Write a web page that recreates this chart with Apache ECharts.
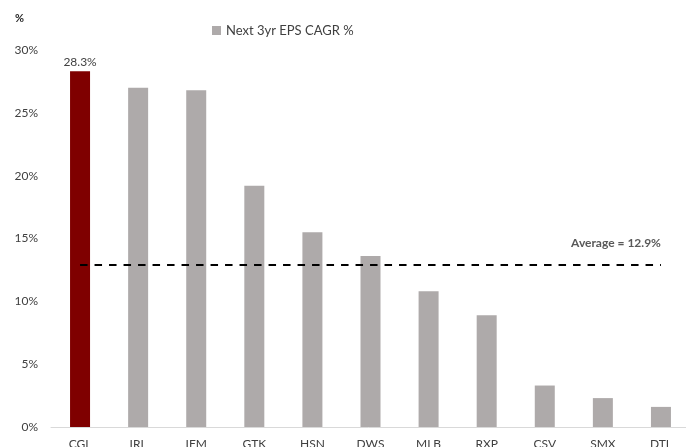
<!DOCTYPE html>
<html>
<head>
<meta charset="utf-8">
<script src="https://cdn.jsdelivr.net/npm/echarts@6/dist/echarts.min.js"></script>
<style>
  html, body { margin: 0; padding: 0; background: #fff; overflow: hidden; }
  #chart { width: 686px; height: 447px; }
</style>
</head>
<body>
<div id="chart"></div>
<script>
// Companies, ranked by forecast EPS growth
const tickers = ['CGL', 'IRL', 'IFM', 'GTK', 'HSN', 'DWS', 'MLB', 'RXP', 'CSV', 'SMX', 'DTL'];
// Next 3yr EPS CAGR, %
const epsCagr = [28.3, 27.0, 26.8, 19.2, 15.5, 13.6, 10.8, 8.9, 3.3, 2.3, 1.6];
// Peer group average, %
const averageCagr = 12.9;
const seriesName = 'Next 3yr EPS CAGR %';
const yTicks = [0, 5, 10, 15, 20, 25, 30];

const FONT = 'Lato, "Open Sans", sans-serif';
const GREY = '#AEAAAA';
const HIGHLIGHT = '#7F0000';

const barData = epsCagr.map((v, i) => i === 0
  ? { value: v, itemStyle: { color: HIGHLIGHT }, label: { show: true } }
  : v);

const chart = echarts.init(document.getElementById('chart'), null, { renderer: 'canvas' });
chart.setOption({
  animation: false,
  textStyle: { fontFamily: FONT },
  title: {
    text: '%',
    left: 10,
    top: 8,
    textStyle: { fontFamily: FONT, fontSize: 11, fontWeight: 'bold', color: '#262626' }
  },
  legend: {
    data: [{ name: seriesName, icon: 'rect' }],
    left: 207,
    top: 19,
    itemWidth: 9,
    itemHeight: 9,
    textStyle: { fontFamily: FONT, fontSize: 13, color: '#404040' }
  },
  grid: {
    left: 51, top: 50, width: 639, height: 377,
    containLabel: false,
    outerBoundsMode: 'none'
  },
  xAxis: {
    type: 'category',
    data: tickers,
    axisTick: { show: false },
    axisLine: { lineStyle: { color: '#D9D9D9', width: 1 } },
    axisLabel: { margin: 11, fontFamily: FONT, fontSize: 12, color: '#404040' }
  },
  yAxis: {
    type: 'value',
    min: yTicks[0],
    max: yTicks[yTicks.length - 1],
    interval: 5,
    splitLine: { show: false },
    axisLine: { show: false },
    axisTick: { show: false },
    axisLabel: { margin: 13, fontFamily: FONT, fontSize: 12, color: '#404040', formatter: '{value}%' }
  },
  series: [{
    name: seriesName,
    type: 'bar',
    barWidth: 20,
    data: barData,
    itemStyle: { color: GREY },
    label: {
      show: false,
      position: 'top',
      distance: 3,
      fontFamily: FONT,
      fontSize: 12,
      color: '#404040',
      formatter: p => p.value.toFixed(1) + '%'
    },
    markLine: {
      silent: true,
      symbol: ['none', 'none'],
      lineStyle: { color: '#000', width: 2, type: [7.5, 7] },
      label: {
        show: true,
        position: 'insideEndTop',
        distance: [0, 16],
        fontFamily: FONT,
        fontSize: 12,
        fontWeight: 'bold',
        color: '#595959',
        formatter: 'Average = ' + averageCagr.toFixed(1) + '%'
      },
      data: [[
        { coord: [tickers[0], averageCagr] },
        { coord: [tickers[tickers.length - 1], averageCagr] }
      ]]
    }
  }]
});
</script>
</body>
</html>
